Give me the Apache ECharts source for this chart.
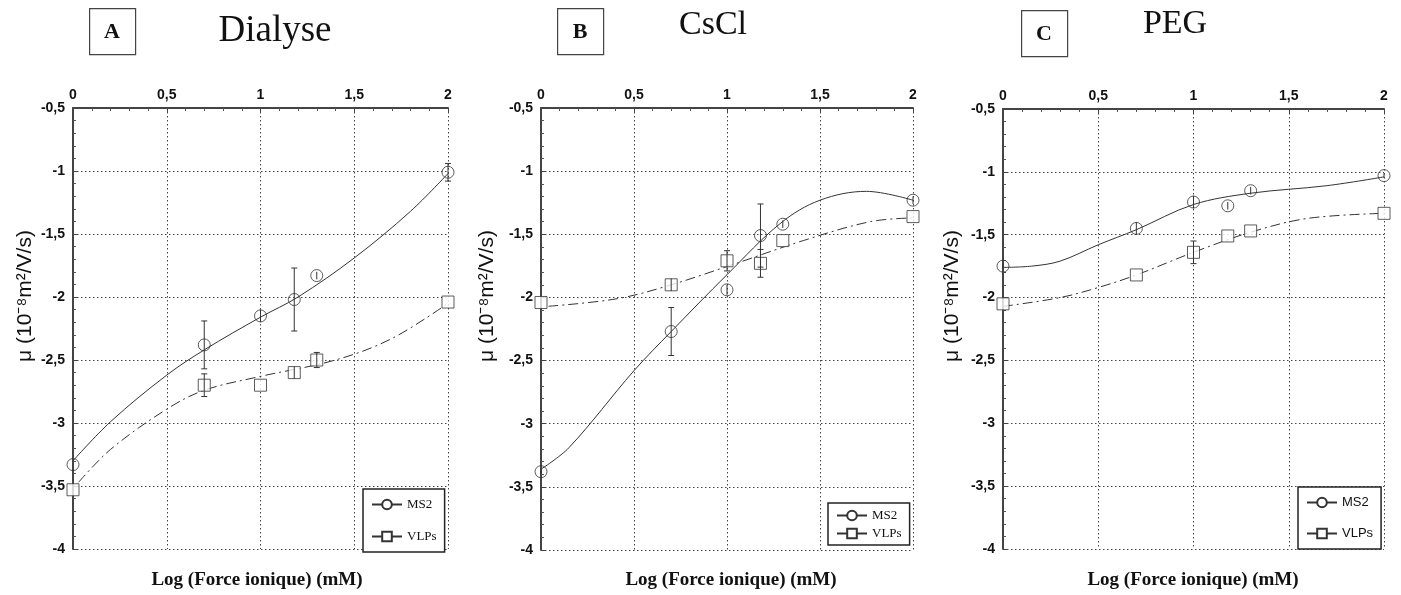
<!DOCTYPE html>
<html>
<head>
<meta charset="utf-8">
<script src="https://cdn.jsdelivr.net/npm/echarts@6/dist/echarts.min.js"></script>
<style>
html, body { margin: 0; padding: 0; background: #fff; }
#chart { width: 1401px; height: 595px; }
</style>
</head>
<body>
<div id="chart"></div>
<script>
// abscisses des mesures : log (force ionique)
var xPoints = [0, 0.7, 1, 1.18, 1.3, 2];
var xTicks = [0, 0.5, 1, 1.5, 2];
var yTicks = [-0.5, -1, -1.5, -2, -2.5, -3, -3.5, -4];

// A - Dialyse
var ms2A = [-3.33, -2.38, -2.15, -2.02, -1.83, -1.01];
var ms2ErrA = [0, 0.19, 0.05, 0.25, 0.03, 0.07];
var vlpA = [-3.53, -2.70, -2.70, -2.60, -2.50, -2.04];
var vlpErrA = [0, 0.09, 0, 0.05, 0.06, 0];
var ms2FitXA = [0, 0.2, 0.5, 0.7, 1, 1.2, 1.5, 1.8, 2];
var ms2FitA = [-3.30, -2.99, -2.62, -2.42, -2.16, -2.00, -1.69, -1.32, -1.02];
var vlpFitXA = [0.03, 0.2, 0.5, 0.7, 1, 1.4, 1.7, 2];
var vlpFitA = [-3.47, -3.21, -2.89, -2.74, -2.63, -2.50, -2.33, -2.05];

// B - CsCl
var ms2B = [-3.38, -2.27, -1.94, -1.51, -1.42, -1.23];
var ms2ErrB = [0.02, 0.19, 0.04, 0.25, 0.03, 0.03];
var vlpB = [-2.04, -1.90, -1.71, -1.73, -1.55, -1.36];
var vlpErrB = [0, 0.05, 0.08, 0.11, 0, 0];
var ms2FitXB = [0, 0.15, 0.5, 0.7, 1, 1.29, 1.5, 1.75, 2];
var ms2FitB = [-3.36, -3.19, -2.58, -2.27, -1.82, -1.41, -1.23, -1.16, -1.23];
var vlpFitXB = [0.04, 0.41, 0.7, 1.05, 1.41, 1.77, 2];
var vlpFitB = [-2.07, -2.01, -1.90, -1.73, -1.55, -1.40, -1.37];

// C - PEG
var ms2C = [-1.75, -1.45, -1.24, -1.27, -1.15, -1.03];
var ms2ErrC = [0.02, 0.05, 0.05, 0.03, 0.03, 0.02];
var vlpC = [-2.05, -1.82, -1.64, -1.51, -1.47, -1.33];
var vlpErrC = [0, 0, 0.09, 0, 0, 0];
var ms2FitXC = [0, 0.15, 0.3, 0.5, 0.7, 1, 1.3, 1.7, 2];
var ms2FitC = [-1.76, -1.75, -1.71, -1.58, -1.46, -1.26, -1.17, -1.11, -1.04];
var vlpFitXC = [0, 0.3, 0.5, 0.7, 1, 1.3, 1.6, 2];
var vlpFitC = [-2.07, -2.00, -1.92, -1.82, -1.64, -1.48, -1.37, -1.33];

var seriesNames = ['MS2', 'VLPs'];
var xName = 'Log (Force ionique) (mM)';
var yName = 'μ (10⁻⁸m²/V/s)';

var panels = [
	{ letter: 'A', title: 'Dialyse', ms2: ms2A, ms2Err: ms2ErrA, vlp: vlpA, vlpErr: vlpErrA,
	  ms2FitX: ms2FitXA, ms2Fit: ms2FitA, vlpFitX: vlpFitXA, vlpFit: vlpFitA,
	  grid: { left: 73, top: 108, width: 375, height: 441 },
	  box: [89, 8], titleX: 275, titleY: 31, titleSize: 37, yNameX: 25, xNameX: 257,
	  legend: { left: 363, top: 489, itemGap: 19, padding: [9, 8, 9, 8] }, font: 'Liberation Sans', legendFont: 'Liberation Serif' },
	{ letter: 'B', title: 'CsCl', ms2: ms2B, ms2Err: ms2ErrB, vlp: vlpB, vlpErr: vlpErrB,
	  ms2FitX: ms2FitXB, ms2Fit: ms2FitB, vlpFitX: vlpFitXB, vlpFit: vlpFitB,
	  grid: { left: 541, top: 108, width: 372, height: 442 },
	  box: [557, 8], titleX: 713, titleY: 25, titleSize: 34, yNameX: 487, xNameX: 731,
	  legend: { left: 828, top: 503, itemGap: 5, padding: [6, 8, 5, 8] }, font: 'Liberation Sans', legendFont: 'Liberation Serif' },
	{ letter: 'C', title: 'PEG', ms2: ms2C, ms2Err: ms2ErrC, vlp: vlpC, vlpErr: vlpErrC,
	  ms2FitX: ms2FitXC, ms2Fit: ms2FitC, vlpFitX: vlpFitXC, vlpFit: vlpFitC,
	  grid: { left: 1003, top: 109, width: 381, height: 440 },
	  box: [1021, 10], titleX: 1175, titleY: 24, titleSize: 34, yNameX: 952, xNameX: 1193,
	  legend: { left: 1298, top: 487, itemGap: 18, padding: [9, 8, 9, 8] }, font: 'Liberation Sans', legendFont: 'Liberation Sans' }
];

function comma(v) {
	return String(v).replace('.', ',');
}

function pairs(xs, ys) {
	var out = [];
	for (var i = 0; i < xs.length; i++) out.push([xs[i], ys[i]]);
	return out;
}

// barres d'erreur : seules celles non nulles sont tracees
function errData(xs, ys, es) {
	var out = [];
	for (var i = 0; i < xs.length; i++) {
		if (es[i] > 0) out.push([xs[i], ys[i] - es[i], ys[i] + es[i]]);
	}
	return out;
}

function renderErr(params, api) {
	var x = api.value(0);
	var top = api.coord([x, api.value(2)]);
	var bot = api.coord([x, api.value(1)]);
	var w = (bot[1] - top[1]) > 14 ? 3 : 0;
	var st = { stroke: '#333', lineWidth: 1 };
	return {
		type: 'group',
		children: [
			{ type: 'line', shape: { x1: top[0], y1: top[1], x2: bot[0], y2: bot[1] }, style: st },
			{ type: 'line', shape: { x1: top[0] - w, y1: top[1], x2: top[0] + w, y2: top[1] }, style: st },
			{ type: 'line', shape: { x1: bot[0] - w, y1: bot[1], x2: bot[0] + w, y2: bot[1] }, style: st }
		]
	};
}

var grids = [], xAxes = [], yAxes = [], series = [], legends = [], graphics = [];

panels.forEach(function (p, i) {
	grids.push(p.grid);
	xAxes.push({
		type: 'value', gridIndex: i, position: 'top', min: 0, max: 2, interval: 0.5,
		axisLine: { show: true, onZero: false, lineStyle: { color: '#444', width: 2 } },
		axisTick: { show: true, inside: true, length: 5, lineStyle: { color: '#444' } },
		minorTick: { show: true, splitNumber: 5, length: 3, lineStyle: { color: '#555' } },
		axisLabel: { formatter: comma, color: '#111', fontWeight: 'bold', fontSize: 14, fontFamily: p.font, margin: 6 },
		splitLine: { show: true, lineStyle: { color: '#444', type: [1.5, 2.5], width: 1 } }
	});
	yAxes.push({
		type: 'value', gridIndex: i, min: -4, max: -0.5, interval: 0.5,
		axisLine: { show: true, onZero: false, lineStyle: { color: '#444', width: 2 } },
		axisTick: { show: true, inside: true, length: 4, lineStyle: { color: '#444' } },
		minorTick: { show: true, splitNumber: 5, length: 3, lineStyle: { color: '#555' } },
		axisLabel: { formatter: comma, color: '#111', fontWeight: 'bold', fontSize: 14, fontFamily: p.font, margin: 8 },
		splitLine: { show: true, lineStyle: { color: '#444', type: [1.5, 2.5], width: 1 } }
	});

	var lineBase = { type: 'line', xAxisIndex: i, yAxisIndex: i, smooth: 0.35, showSymbol: false,
		symbolSize: 11, color: '#333', z: 2, silent: true };
	series.push(Object.assign({}, lineBase, {
		name: seriesNames[0], symbol: 'emptyCircle', data: pairs(p.ms2FitX, p.ms2Fit),
		lineStyle: { color: '#333', width: 1 }
	}));
	series.push(Object.assign({}, lineBase, {
		name: seriesNames[1], symbol: 'emptyRect', data: pairs(p.vlpFitX, p.vlpFit),
		lineStyle: { color: '#333', width: 1, type: [10, 4, 2, 4] }
	}));
	series.push({
		type: 'scatter', name: seriesNames[0], xAxisIndex: i, yAxisIndex: i, symbol: 'circle', symbolSize: 12, z: 3,
		itemStyle: { color: 'rgba(255,255,255,0)', borderColor: '#333', borderWidth: 1 },
		data: pairs(xPoints, p.ms2)
	});
	series.push({
		type: 'scatter', name: seriesNames[1], xAxisIndex: i, yAxisIndex: i, symbol: 'rect', symbolSize: 12, z: 3,
		itemStyle: { color: '#fff', borderColor: '#333', borderWidth: 1 },
		data: pairs(xPoints, p.vlp)
	});
	series.push({
		type: 'custom', xAxisIndex: i, yAxisIndex: i, renderItem: renderErr, z: 4, silent: true,
		encode: { x: 0, y: [1, 2] }, data: errData(xPoints, p.ms2, p.ms2Err)
	});
	series.push({
		type: 'custom', xAxisIndex: i, yAxisIndex: i, renderItem: renderErr, z: 4, silent: true,
		encode: { x: 0, y: [1, 2] }, data: errData(xPoints, p.vlp, p.vlpErr)
	});

	legends.push({
		data: seriesNames, orient: 'vertical', left: p.legend.left, top: p.legend.top,
		itemGap: p.legend.itemGap, padding: p.legend.padding, itemWidth: 30, itemHeight: 12,
		selectedMode: false, backgroundColor: '#fff', borderColor: '#222', borderWidth: 1.5,
		textStyle: { fontFamily: p.legendFont, fontSize: 13, color: '#111' }
	});

	graphics.push({
		type: 'rect', left: p.box[0], top: p.box[1], shape: { width: 46, height: 46 },
		style: { fill: '#fff', stroke: '#444', lineWidth: 1.2 }
	});
	graphics.push({
		type: 'text', x: p.box[0] + 23, y: p.box[1] + 24,
		style: { text: p.letter, fill: '#111', font: 'bold 22px "Liberation Serif"', textAlign: 'center', textVerticalAlign: 'middle' }
	});
	graphics.push({
		type: 'text', x: p.titleX, y: p.titleY,
		style: { text: p.title, fill: '#111', font: p.titleSize + 'px "Liberation Serif"', textAlign: 'center', textVerticalAlign: 'middle' }
	});
	graphics.push({
		type: 'text', x: p.yNameX, y: 296, rotation: Math.PI / 2,
		style: { text: yName, fill: '#111', font: '21px "Liberation Sans"', textAlign: 'center', textVerticalAlign: 'middle' }
	});
	graphics.push({
		type: 'text', x: p.xNameX, y: 580,
		style: { text: xName, fill: '#111', font: 'bold 19px "Liberation Serif"', textAlign: 'center', textVerticalAlign: 'middle' }
	});
});

var chart = echarts.init(document.getElementById('chart'));
chart.setOption({
	backgroundColor: '#fff',
	animation: false,
	grid: grids,
	xAxis: xAxes,
	yAxis: yAxes,
	legend: legends,
	series: series,
	graphic: graphics
});
</script>
</body>
</html>
